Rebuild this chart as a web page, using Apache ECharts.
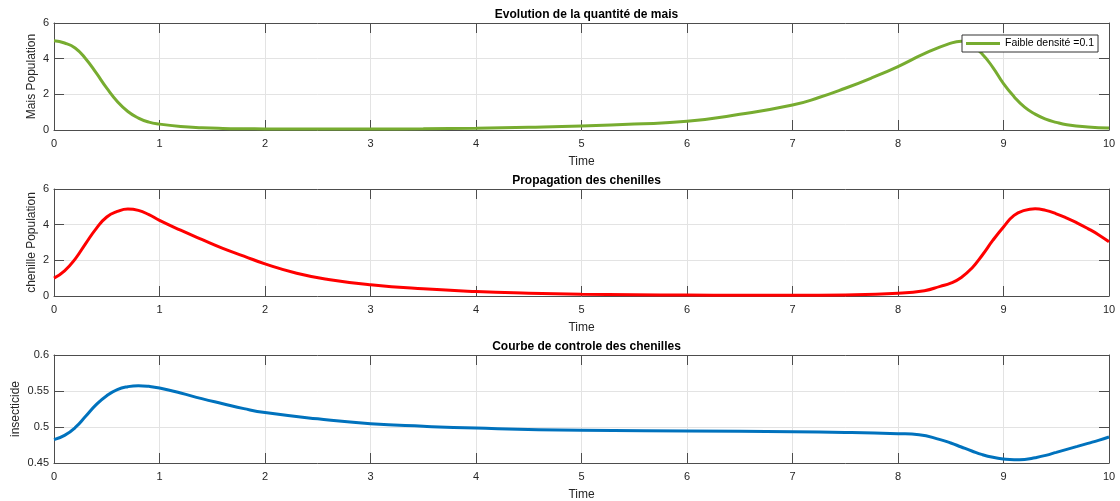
<!DOCTYPE html>
<html>
<head>
<meta charset="utf-8">
<script src="https://cdn.jsdelivr.net/npm/echarts@6/dist/echarts.min.js"></script>
<style>
html,body{margin:0;padding:0;background:#fff;}
#c{width:1120px;height:501px;}
</style>
</head>
<body>
<div id="c"></div>
<script>
// ---- Data ----
var titles = ['Evolution de la quantité de mais', 'Propagation des chenilles', 'Courbe de controle des chenilles'];
var yNames = ['Mais Population', 'chenille Population', 'insecticide'];
var xName = 'Time';
var legendName = 'Faible densité =0.1';

var tMais = [0,0.1,0.2,0.3,0.4,0.5,0.6,0.7,0.8,0.9,1.0,1.2,1.4,1.6,1.8,2,2.5,3,3.5,4,4.5,5,5.5,6,6.5,7,7.25,7.5,7.75,8,8.25,8.5,8.6,8.7,8.8,8.9,9,9.1,9.2,9.3,9.4,9.5,9.6,9.8,10];
var maisVals = [5.0,4.88,4.6,4.0,3.2,2.35,1.6,1.04,0.67,0.44,0.33,0.2,0.13,0.09,0.07,0.06,0.05,0.055,0.07,0.1,0.15,0.22,0.33,0.49,0.88,1.4,1.82,2.34,2.92,3.56,4.28,4.87,4.98,4.75,4.25,3.5,2.6,1.87,1.28,0.89,0.61,0.43,0.3,0.17,0.11];

var tChen = [0,0.1,0.2,0.3,0.4,0.5,0.6,0.7,0.8,0.9,1,1.2,1.4,1.6,1.8,2,2.3,2.6,3,3.5,4,4.5,5,5.5,6,6.5,7,7.5,8,8.25,8.4,8.5,8.6,8.7,8.8,8.9,9,9.1,9.2,9.3,9.4,9.5,9.6,9.7,9.8,9.9,10];
var chenVals = [1.0,1.41,2.07,2.94,3.78,4.43,4.74,4.88,4.8,4.56,4.24,3.69,3.17,2.67,2.24,1.8,1.28,0.93,0.63,0.4,0.25,0.16,0.1,0.07,0.05,0.04,0.04,0.06,0.15,0.3,0.54,0.72,1.04,1.56,2.3,3.13,3.87,4.52,4.8,4.89,4.8,4.61,4.37,4.09,3.78,3.44,3.04];

var tIns = [0,0.1,0.2,0.3,0.4,0.5,0.6,0.7,0.8,0.9,1.0,1.2,1.4,1.6,1.8,2,2.5,3,3.5,4,5,6,7,7.5,8,8.2,8.4,8.5,8.6,8.7,8.8,8.9,9,9.1,9.2,9.3,9.4,9.5,9.6,9.7,9.8,9.9,10];
var insVals = [0.4824,0.4884,0.499,0.5148,0.531,0.5435,0.5519,0.556,0.5574,0.5565,0.5542,0.5472,0.5394,0.5324,0.5255,0.52,0.5113,0.5045,0.501,0.4985,0.4955,0.4945,0.4935,0.4925,0.4907,0.4893,0.4824,0.4778,0.4722,0.4667,0.4616,0.4579,0.4556,0.4546,0.455,0.4574,0.4606,0.4648,0.469,0.4731,0.4773,0.4815,0.4861];

var xTicks = {min: 0, max: 10, interval: 1};
var yTicks = [{min: 0, max: 6, interval: 2}, {min: 0, max: 6, interval: 2}, {min: 0.45, max: 0.6, interval: 0.05}];
var colors = ['#77AC30', '#FF0000', '#0072BD'];

// ---- Chart ----
var FONT = 'Liberation Sans, Arial, Helvetica, sans-serif';
var TXT = '#262626';
var AX = '#4d4d4d';
var grids = [
  {left: 54, right: 11, top: 23, height: 107, outerBoundsMode: 'none', containLabel: false},
  {left: 54, right: 11, top: 189, height: 107, outerBoundsMode: 'none', containLabel: false},
  {left: 54, right: 11, top: 355, height: 108, outerBoundsMode: 'none', containLabel: false}
];
var yNameGaps = [16, 16, 32];

var xAxes = [], yAxes = [], series = [], titleOpts = [];
var seriesData = [
  tMais.map(function (t, i) { return [t, maisVals[i]]; }),
  tChen.map(function (t, i) { return [t, chenVals[i]]; }),
  tIns.map(function (t, i) { return [t, insVals[i]]; })
];

for (var k = 0; k < 3; k++) {
  var g = grids[k];
  titleOpts.push({
    text: titles[k], left: 581.5, textAlign: 'center', top: g.top - 19,
    textStyle: {fontFamily: FONT, fontSize: 12, fontWeight: 'bold', color: '#000'}
  });
  xAxes.push({
    type: 'value', gridIndex: k, position: 'bottom', min: xTicks.min, max: xTicks.max, interval: xTicks.interval,
    name: xName, nameLocation: 'middle', nameGap: 26, nameMoveOverlap: false,
    nameTextStyle: {fontFamily: FONT, fontSize: 12, color: TXT},
    axisLine: {show: true, onZero: false, lineStyle: {color: AX, width: 1}},
    axisTick: {show: true, inside: true, length: 10, lineStyle: {color: AX}},
    axisLabel: {fontFamily: FONT, fontSize: 11, color: TXT, margin: 8},
    splitLine: {show: true, lineStyle: {color: '#e3e3e3', width: 1}}
  });
  xAxes.push({
    type: 'value', gridIndex: k, position: 'top', min: xTicks.min, max: xTicks.max, interval: xTicks.interval,
    axisLine: {show: true, onZero: false, lineStyle: {color: AX, width: 1}},
    axisTick: {show: true, inside: true, length: 10, lineStyle: {color: AX}},
    axisLabel: {show: false}, splitLine: {show: false}
  });
  yAxes.push({
    type: 'value', gridIndex: k, position: 'left', min: yTicks[k].min, max: yTicks[k].max, interval: yTicks[k].interval,
    name: yNames[k], nameLocation: 'middle', nameGap: yNameGaps[k], nameRotate: 90, nameMoveOverlap: false,
    nameTextStyle: {fontFamily: FONT, fontSize: 12, color: TXT},
    axisLine: {show: true, onZero: false, lineStyle: {color: AX, width: 1}},
    axisTick: {show: true, inside: true, length: 10, lineStyle: {color: AX}},
    axisLabel: {fontFamily: FONT, fontSize: 11, color: TXT, margin: 5},
    splitLine: {show: true, lineStyle: {color: '#e3e3e3', width: 1}}
  });
  yAxes.push({
    type: 'value', gridIndex: k, position: 'right', min: yTicks[k].min, max: yTicks[k].max, interval: yTicks[k].interval,
    axisLine: {show: true, onZero: false, lineStyle: {color: AX, width: 1}},
    axisTick: {show: true, inside: true, length: 10, lineStyle: {color: AX}},
    axisLabel: {show: false}, splitLine: {show: false}
  });
  series.push({
    type: 'line', name: k === 0 ? legendName : ('s' + k),
    xAxisIndex: 2 * k, yAxisIndex: 2 * k,
    data: seriesData[k], smooth: 0.5, showSymbol: false, symbol: 'none',
    lineStyle: {color: colors[k], width: 3}, itemStyle: {color: colors[k]},
    clip: true, animation: false
  });
}

var chart = echarts.init(document.getElementById('c'), null, {renderer: 'canvas'});
chart.setOption({
  animation: false,
  backgroundColor: '#fff',
  title: titleOpts,
  grid: grids,
  xAxis: xAxes,
  yAxis: yAxes,
  series: series,
  legend: {
    data: [{name: legendName, icon: 'rect'}],
    left: 962, top: 35, padding: [3, 4, 3, 4],
    itemWidth: 34, itemHeight: 3,
    backgroundColor: '#fff', borderColor: '#333', borderWidth: 1, borderRadius: 0,
    textStyle: {fontFamily: FONT, fontSize: 10.5, color: '#000', lineHeight: 11},
    selectedMode: false
  }
});
</script>
</body>
</html>
